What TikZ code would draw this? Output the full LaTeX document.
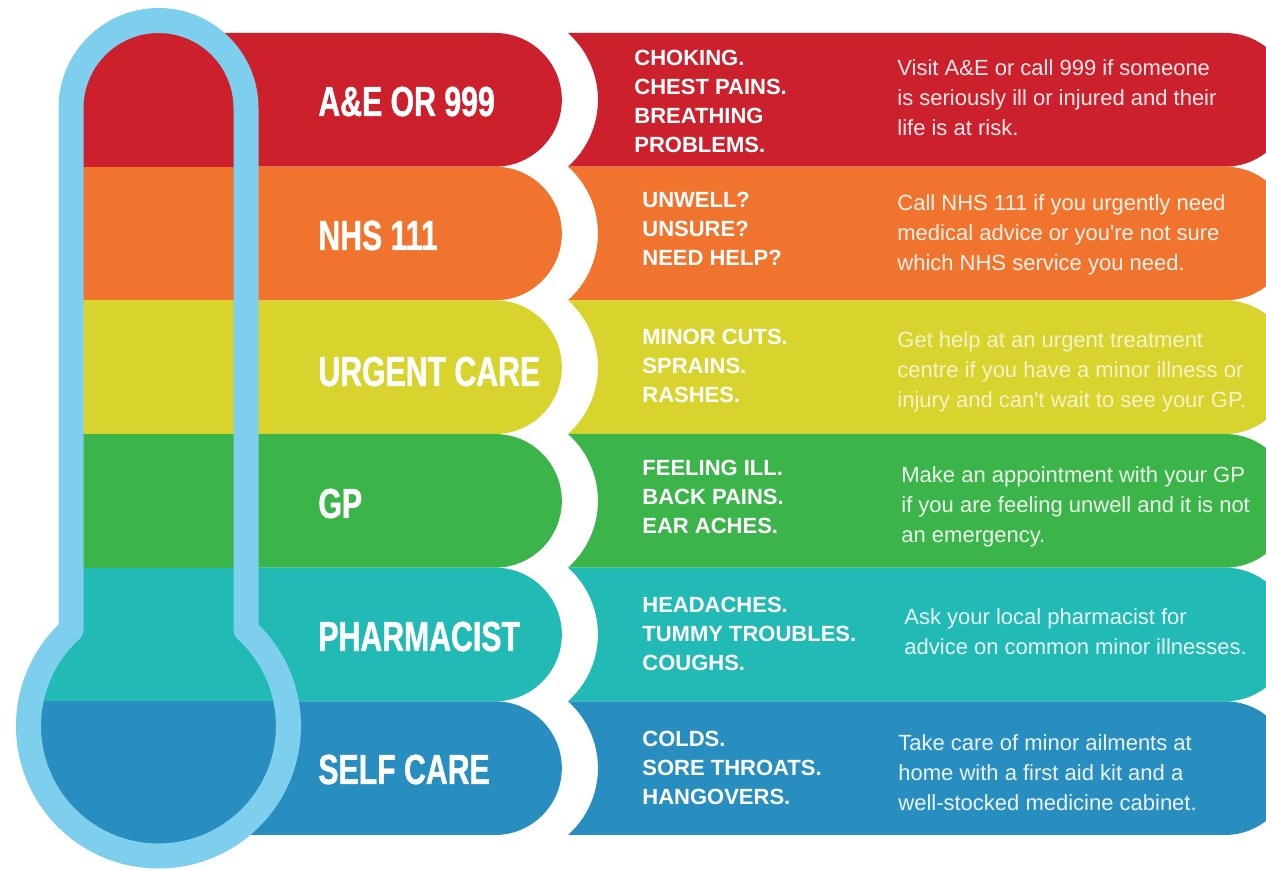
\documentclass[tikz,border=0pt]{standalone}
\usepackage{fontspec}
\setmainfont{Liberation Sans}
\newfontfamily\descfont{Liberation Sans}
\newfontfamily\labelfont[FakeStretch=0.72,FakeBold=1]{Liberation Sans}
\definecolor{cred}{RGB}{204,32,44}
\definecolor{corange}{RGB}{240,116,46}
\definecolor{cyellow}{RGB}{217,211,46}
\definecolor{cgreen}{RGB}{59,180,74}
\definecolor{cteal}{RGB}{33,186,180}
\definecolor{cblue}{RGB}{40,142,192}
\definecolor{ctube}{RGB}{126,207,238}
\def\thermopath{(71,629.9) -- (71,108) arc[start angle=180,end angle=360,radius=87.5] -- (246,629.9) arc[start angle=-47.68,end angle=227.68,radius=130] -- cycle}
\begin{document}
\begin{tikzpicture}[x=0.5pt,y=-0.5pt,
  lab/.style={anchor=base west, inner sep=0pt, text=white, font=\labelfont\bfseries\fontsize{21}{21}\selectfont},
  midtxt/.style={anchor=north west, inner sep=0pt, align=left, text=white, font=\bfseries\fontsize{11}{14.5}\selectfont},
  desc/.style={anchor=north west, inner sep=0pt, align=left, text=white, text opacity=0.9, font=\descfont\fontsize{11}{15}\selectfont}]
\useasboundingbox (0,0) rectangle (1266,870);
\clip (0,0) rectangle (1266,870);
\fill[white] (0,0) rectangle (1266,870);
% bands
\foreach \c/\t/\b in {cred/33/166.67, corange/166.67/300.33, cyellow/300.33/434, cgreen/434/567.67, cteal/567.67/701.33, cblue/701.33/835}{
  \fill[\c] (158,\t) -- (495,\t) arc[start angle=-90,end angle=90,radius=66.83] -- (158,\b) -- cycle;
  \fill[\c] (568,\t) -- (1225,\t) arc[start angle=-90,end angle=90,radius=66.83] -- (568,\b) arc[start angle=48.32,end angle=-48.32,radius=89.48] -- cycle;
}
% thermometer interior
\begin{scope}
  \clip \thermopath;
  \foreach \c/\t/\b in {cred/0/166.67, corange/166.67/300.33, cyellow/300.33/434, cgreen/434/567.67, cteal/567.67/701.33, cblue/701.33/870}{
    \fill[\c] (0,\t) rectangle (320,\b);
  }
\end{scope}
\draw[ctube, line width=12.5pt, line join=round] \thermopath;
% labels
\node[lab] (l1) at (318,116) {A\&E OR 999};
\node[lab] (l2) at (318,250) {NHS 111};
\node[lab] (l3) at (318,386) {URGENT CARE};
\node[lab] (l4) at (318,518) {GP};
\node[lab] (l5) at (318,651) {PHARMACIST};
\node[lab] (l6) at (318,784) {SELF CARE};
% middle texts
\node[midtxt] (m1) at (634,50) {CHOKING.\\CHEST PAINS.\\BREATHING\\PROBLEMS.};
\node[midtxt] (m2) at (642,192) {UNWELL?\\UNSURE?\\NEED HELP?};
\node[midtxt] (m3) at (642,329) {MINOR CUTS.\\SPRAINS.\\RASHES.};
\node[midtxt] (m4) at (642,460) {FEELING ILL.\\BACK PAINS.\\EAR ACHES.};
\node[midtxt] (m5) at (642,597) {HEADACHES.\\TUMMY TROUBLES.\\COUGHS.};
\node[midtxt] (m6) at (642,731) {COLDS.\\SORE THROATS.\\HANGOVERS.};
% descriptions
\node[desc] (d1) at (897,59) {Visit A\&E or call 999 if someone\\is seriously ill or injured and their\\life is at risk.};
\node[desc] (d2) at (897,194) {Call NHS 111 if you urgently need\\medical advice or you're not sure\\which NHS service you need.};
\node[desc, text opacity=0.75] (d3) at (897,331) {Get help at an urgent treatment\\centre if you have a minor illness or\\injury and can't wait to see your GP.};
\node[desc] (d4) at (901,466) {Make an appointment with your GP\\if you are feeling unwell and it is not\\an emergency.};
\node[desc] (d5) at (904,608) {Ask your local pharmacist for\\advice on common minor illnesses.};
\node[desc] (d6) at (898,734) {Take care of minor ailments at\\home with a first aid kit and a\\well-stocked medicine cabinet.};
\end{tikzpicture}
\end{document}
